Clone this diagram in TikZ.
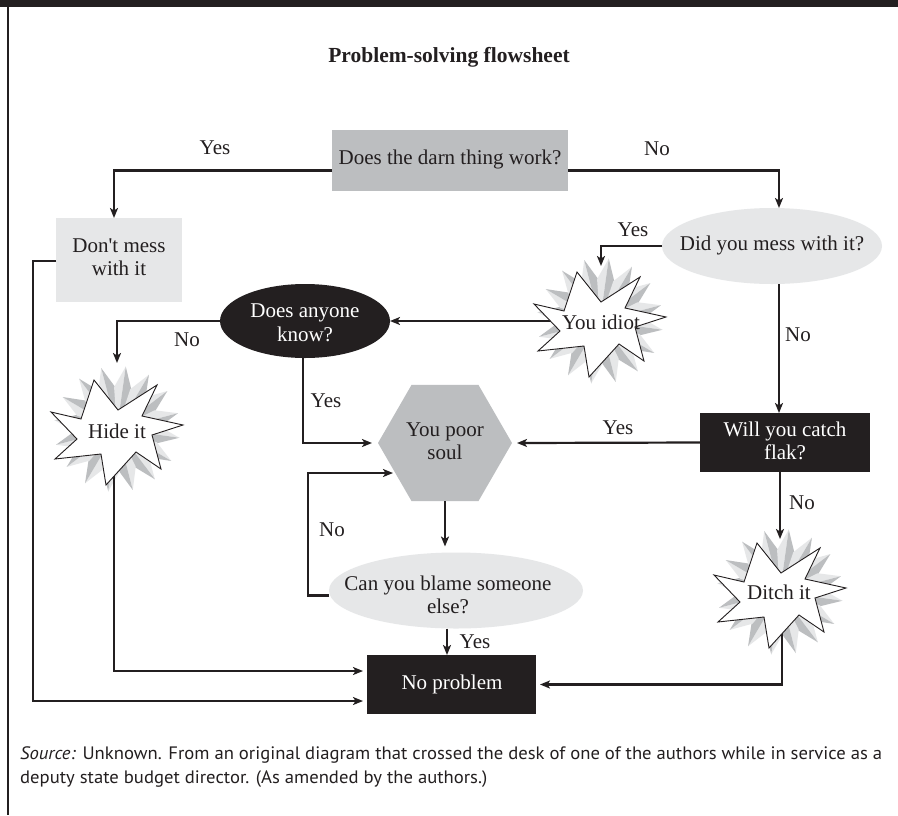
\documentclass[tikz,border=0pt]{standalone}
\usepackage{fontspec}
\usepackage{graphicx}
\setmainfont{Liberation Serif}
\newfontfamily\capfont{PT Sans}
\usetikzlibrary{shapes.geometric,arrows.meta,calc}

\definecolor{ink}{HTML}{231F20}
\definecolor{midgray}{HTML}{BCBEC0}
\definecolor{lightgray}{HTML}{E6E7E8}

\newlength\CapWidth
\newcommand\CapLineA{\textit{Source:} Unknown. From an original diagram that crossed the desk of one of the authors while in service as a}
\newcommand\CapLineB{deputy state budget director. (As amended by the authors.)}
\newcommand\CapSize{\capfont\fontsize{18}{24}\selectfont}

% shaded spikes behind a burst
\newcommand\FlowRays[1]{%
  \foreach \a in {8,30.5,...,360}{%
    \fill[lightgray] (#1) -- ($(#1)+({\a-12}:42)$) -- ($(#1)+(\a:63)$) -- cycle;
    \fill[midgray]   (#1) -- ($(#1)+({\a+12}:42)$) -- ($(#1)+(\a:63)$) -- cycle;
  }}
% seven-pointed white burst
\newcommand\FlowStar[1]{%
  \filldraw[fill=white, draw=ink, line width=0.9pt, shift={(#1)}]
    (-23,-49) -- (1,-19) -- (40,-44) -- (25,-13) -- (66,-4) -- (35,6)
    -- (44,40) -- (19,23) -- (-11,56) -- (-16,25) -- (-62,30) -- (-40,10)
    -- (-66,-17) -- (-36,-10) -- cycle;}

\tikzset{
  txt/.style={font=\fontsize{21}{23.5}\selectfont, align=center, text=ink, inner sep=0pt},
  wtxt/.style={txt, text=white},
  lbl/.style={font=\fontsize{21}{23.5}\selectfont, text=ink, inner sep=0pt},
  shapebox/.style={rectangle, inner sep=0pt, outer sep=0pt},
  oval/.style={ellipse, inner sep=0pt, outer sep=0pt},
  flow/.style={draw=ink, line width=2.2pt,
    -{Stealth[length=10pt, width=8pt, inset=2.5pt]}},
}

\begin{document}
\settowidth\CapWidth{\CapSize\CapLineA}%
\pgfmathsetmacro\capsx{862pt/\CapWidth}%
\begin{tikzpicture}[x=1pt, y=-1pt]
\useasboundingbox (0,0) rectangle (898,815);
\fill[white] (0,0) rectangle (898,815);

% frame
\fill[ink] (0,0) rectangle (898,6.5);
\draw[ink, line width=2.5pt] (8,0) -- (8,815);

% title
\node[font=\bfseries\fontsize{21.5}{24}\selectfont, text=ink] (title) at (449,57) {Problem-solving flowsheet};

% burst centres
\coordinate (idiot) at (600,321);
\coordinate (hide)  at (117,429);
\coordinate (ditch) at (780,592);

\FlowRays{idiot}
\FlowRays{hide}
\FlowRays{ditch}

% shapes
\node[shapebox, fill=midgray, minimum width=236pt, minimum height=61pt] (work) at (450,160.5) {};
\node[shapebox, fill=lightgray, minimum width=126pt, minimum height=84pt] (dont) at (119,260) {};
\node[oval, fill=lightgray, minimum width=220pt, minimum height=76pt] (mess) at (772,246) {};
\node[oval, fill=ink, minimum width=170pt, minimum height=74pt] (anyone) at (305,321) {};
\node[regular polygon, regular polygon sides=6, minimum size=134pt, inner sep=0pt, outer sep=0pt, fill=midgray] (poor) at (445,443) {};
\node[shapebox, fill=ink, minimum width=170pt, minimum height=59pt] (flak) at (785,442.5) {};
\node[oval, fill=lightgray, minimum width=254pt, minimum height=76pt] (blame) at (456,590.5) {};
\node[shapebox, fill=ink, minimum width=169pt, minimum height=59pt] (noprob) at (451.5,684.5) {};

% connectors
\draw[flow] ([yshift=-10pt]work.west) -| ([xshift=-5pt]dont.north);
\draw[flow] ([yshift=-10pt]work.east) -| ([xshift=7pt]mess.north);
\draw[flow] (mess.west) -| ([shift={(1,-55)}]idiot);
\draw[flow] ([xshift=7pt]mess.south) -- ([xshift=7pt]mess.south |- flak.north);
\draw[flow] (idiot) -- (anyone.east);
\draw[flow] (anyone.west) -| ([yshift=66pt]hide);
\draw[flow] ([xshift=-2pt]anyone.south) |- ([xshift=-6pt]poor.west);
\draw[flow] (flak.west) -- ([xshift=5pt]poor.east);
\draw[flow] ([xshift=-5pt]flak.south) -- ([yshift=53pt]ditch);
\draw[flow] (poor.south) -- ([yshift=6pt]blame.north -| poor.south);
\draw[flow] ([yshift=-5pt]blame.west) -- ++(-21,0) |- ([shift={(-52,30)}]poor.center);
\draw[flow] ([xshift=-9pt]blame.south) -- ([xshift=-9pt]blame.south |- noprob.north);
\draw[flow] ([xshift=-3pt]hide) |- ([shift={(-4,-13.5)}]noprob.west);
\draw[flow] ([yshift=-1pt]dont.west) -- ++(-23,0) |- ([shift={(-4,16.5)}]noprob.west);
\draw[flow] ([xshift=2pt]ditch) |- ([xshift=4pt]noprob.east);

% bursts on top of the connector ends
\FlowStar{idiot}
\FlowStar{hide}
\FlowStar{ditch}

% texts
\node[txt] (workt) at (450,159) {Does the darn thing work?};
\node[txt] (dontt) at (119,257) {Don\textquotesingle t mess\\with it};
\node[txt] (messt) at (772,245) {Did you mess with it?};
\node[wtxt] (anyonet) at (305,323) {Does anyone\\know?};
\node[txt] (poort) at (445,441) {You poor\\soul};
\node[wtxt] (flakt) at (785,441) {Will you catch\\flak?};
\node[txt] (blamet) at (448,595) {Can you blame someone\\else?};
\node[wtxt] (noprobt) at (452,684) {No problem};
\node[txt] (idiott) at (601,322) {You idiot};
\node[txt] (hidet) at (117,431) {Hide it};
\node[txt] (ditcht) at (779,592) {Ditch it};

% branch labels
\node[lbl] (l1)  at (215,148) {Yes};
\node[lbl] (l2)  at (657,149) {No};
\node[lbl] (l3)  at (633,230) {Yes};
\node[lbl] (l4)  at (798,335) {No};
\node[lbl] (l5)  at (187,340) {No};
\node[lbl] (l6)  at (326,401) {Yes};
\node[lbl] (l7)  at (618,428) {Yes};
\node[lbl] (l8)  at (802,503) {No};
\node[lbl] (l9)  at (332,530) {No};
\node[lbl] (l10) at (475,642) {Yes};

% source note
\node[anchor=base west, inner sep=0pt, text=ink] (cap1) at (20,759)
  {\scalebox{\capsx}[1]{\CapSize\CapLineA}};
\node[anchor=base west, inner sep=0pt, text=ink] (cap2) at (20,783)
  {\scalebox{\capsx}[1]{\CapSize\CapLineB}};
\end{tikzpicture}
\end{document}
